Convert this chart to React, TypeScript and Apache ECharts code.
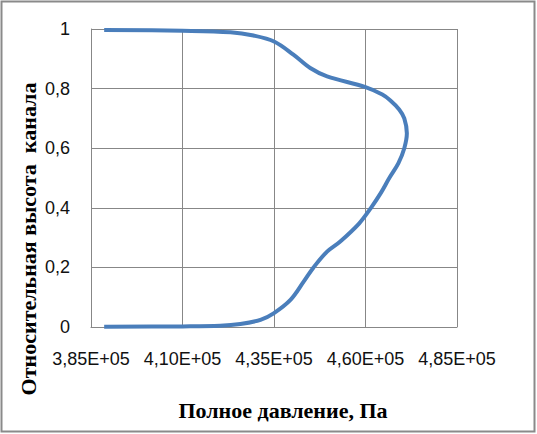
import React, { useEffect, useRef } from "react";
import * as echarts from "echarts";

// Pressure (Pa) along the curve, from bottom (height 0) to top (height 1)
const pressure = [
  388600, 410000, 420300, 425800, 431300, 434900, 439500, 443100, 445800,
  449500, 453100, 458300, 461500, 464200, 466500, 469000, 470600, 471300,
  470600, 469200, 466800, 464600, 460000, 449500, 444900, 440300, 435000,
  429400, 423100, 410000, 388600,
];
// Relative channel height
const height = [
  0.001, 0.002, 0.004, 0.01, 0.024, 0.046, 0.091, 0.152, 0.2, 0.253, 0.287,
  0.348, 0.4, 0.45, 0.5, 0.55, 0.6, 0.65, 0.7, 0.73, 0.76, 0.78, 0.805, 0.841,
  0.869, 0.914, 0.958, 0.978, 0.989, 0.994, 0.997,
];

const xTicks = [385000, 410000, 435000, 460000, 485000];
const xTickLabels = ["3,85E+05", "4,10E+05", "4,35E+05", "4,60E+05", "4,85E+05"];
const yTicks = [0, 0.2, 0.4, 0.6, 0.8, 1];
const yTickLabels = ["0", "0,2", "0,4", "0,6", "0,8", "1"];

const xTitle = "Полное давление, Па";
const yTitle = "Относительная высота  канала";

function lookup(ticks: number[], labels: string[], v: number) {
  for (let i = 0; i < ticks.length; i++) {
    if (Math.abs(ticks[i] - v) < 1e-6 * Math.max(1, Math.abs(v))) return labels[i];
  }
  return "";
}

export default function App() {
  const ref = useRef<HTMLDivElement>(null);
  useEffect(() => {
    if (!ref.current) return;
    const chart = echarts.init(ref.current, null, { renderer: "svg" });
    const gridColor = "#878787";
    chart.setOption({
      animation: false,
      backgroundColor: "#ffffff",
      grid: { left: 91, top: 29, width: 366, height: 298 },
      xAxis: {
        type: "value",
        min: xTicks[0],
        max: xTicks[xTicks.length - 1],
        interval: 25000,
        axisLine: { show: true, lineStyle: { color: gridColor, width: 1 } },
        axisTick: { show: false },
        splitLine: { show: true, lineStyle: { color: gridColor, width: 1 } },
        axisLabel: {
          margin: 23,
          fontFamily: "Liberation Sans",
          fontSize: 18,
          color: "#111",
          formatter: (v: number) => lookup(xTicks, xTickLabels, v),
        },
      },
      yAxis: {
        type: "value",
        min: 0,
        max: 1,
        interval: 0.2,
        axisLine: { show: true, lineStyle: { color: gridColor, width: 1 } },
        axisTick: { show: false },
        splitLine: { show: true, lineStyle: { color: gridColor, width: 1 } },
        axisLabel: {
          margin: 21,
          fontFamily: "Liberation Sans",
          fontSize: 18,
          color: "#111",
          formatter: (v: number) => lookup(yTicks, yTickLabels, v),
        },
      },
      series: [
        {
          type: "line",
          data: pressure.map((p, i) => [p, height[i]]),
          smooth: 0.35,
          showSymbol: false,
          symbol: "none",
          lineStyle: { color: "#4A7EBB", width: 4 },
        },
      ],
      graphic: [
        {
          type: "rect",
          shape: { x: 1.5, y: 1.5, width: 533, height: 430 },
          style: { fill: "none", stroke: "#8a8a8a", lineWidth: 2 },
          silent: true,
        },
        {
          type: "text",
          x: 283,
          y: 410,
          style: {
            text: xTitle,
            font: "bold 22px 'Liberation Serif', 'Times New Roman', serif",
            fill: "#000",
            align: "center",
            verticalAlign: "middle",
          },
        },
        {
          type: "text",
          x: 28,
          y: 239,
          rotation: Math.PI / 2,
          style: {
            text: yTitle,
            font: "bold 22px 'Liberation Serif', 'Times New Roman', serif",
            fill: "#000",
            align: "center",
            verticalAlign: "middle",
          },
        },
      ],
    });
    return () => chart.dispose();
  }, []);
  return (
    <div
      ref={ref}
      style={{ position: "fixed", left: 0, top: 0, width: 537, height: 434 }}
    />
  );
}
